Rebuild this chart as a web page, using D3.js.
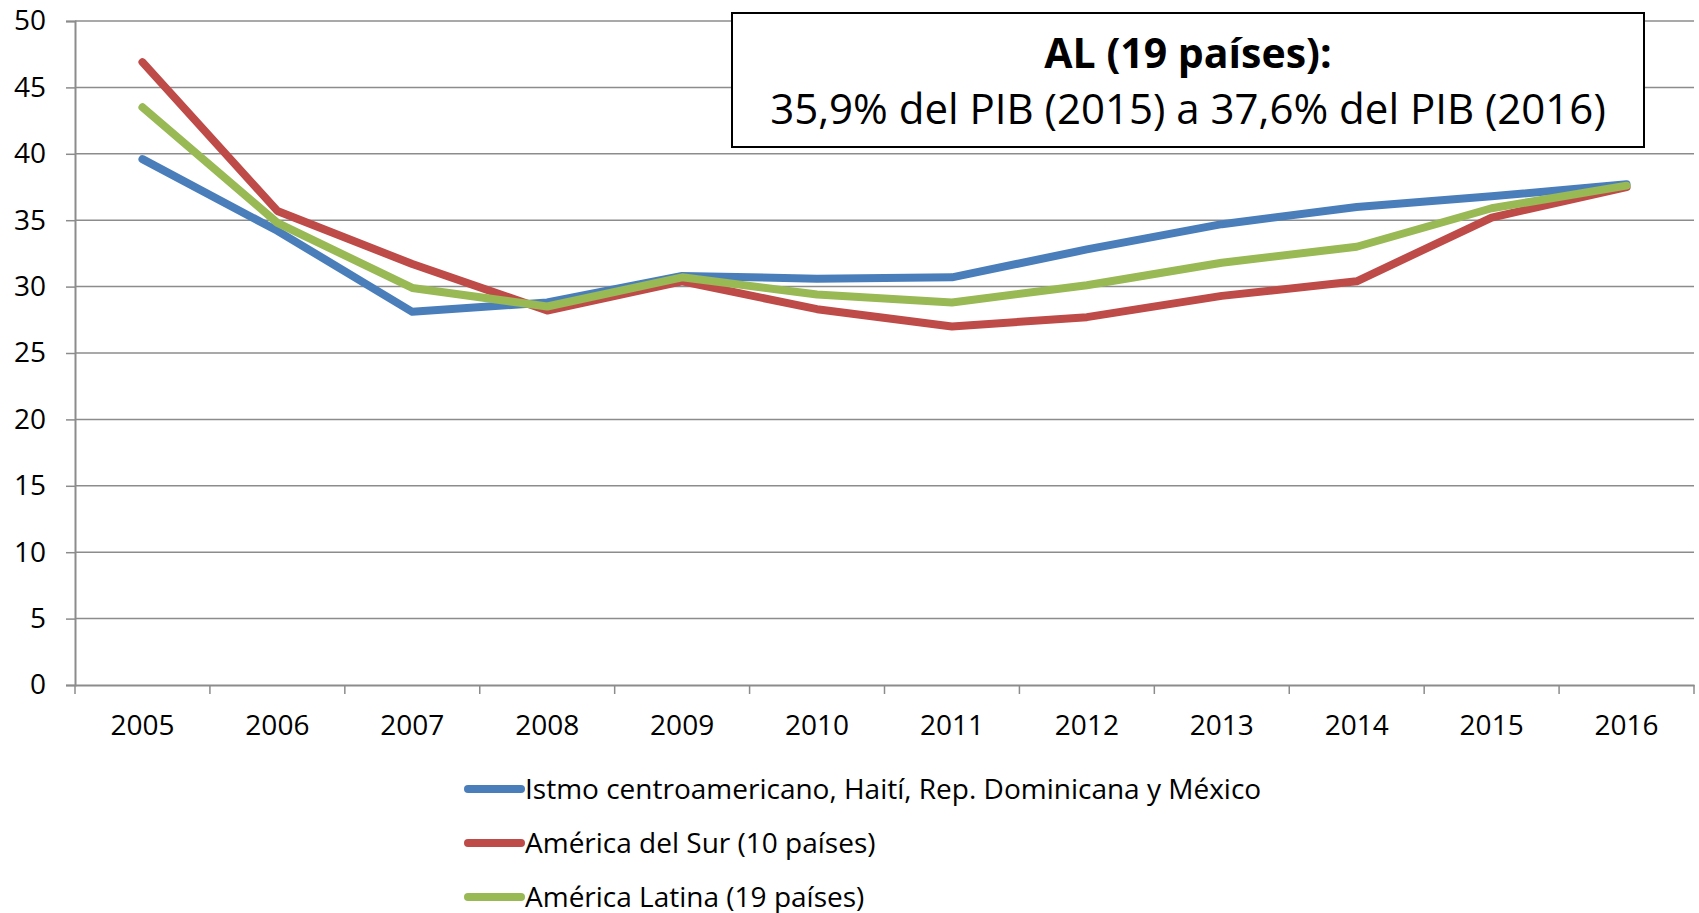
<html>
<head>
<style>
  body { margin: 0; background: #fff; }
  text { font-family: "Open Sans", sans-serif; fill: #000; }
</style>
</head>
<body>
<svg id="svg" width="1699" height="913"></svg>
<script src="https://d3js.org/d3.v7.min.js"></script>
<script>

var years = ["2005","2006","2007","2008","2009","2010","2011","2012","2013","2014","2015","2016"];
var yTicks = [0, 5, 10, 15, 20, 25, 30, 35, 40, 45, 50];

var istmo   = [39.6, 34.2, 28.1, 28.8, 30.8, 30.6, 30.7, 32.8, 34.7, 36.0, 36.8, 37.7];
var sur     = [46.9, 35.7, 31.7, 28.2, 30.4, 28.3, 27.0, 27.7, 29.3, 30.4, 35.2, 37.5];
var latina  = [43.5, 34.8, 29.9, 28.5, 30.7, 29.4, 28.8, 30.1, 31.8, 33.0, 35.9, 37.6];

var seriesNames = [
  "Istmo centroamericano, Haití, Rep. Dominicana y México",
  "América del Sur (10 países)",
  "América Latina (19 países)"
];
var seriesColors = ["#4a7ebb", "#be4b48", "#98b954"];

var boxTitle = "AL (19 países):";
var boxText = "35,9% del PIB (2015) a 37,6% del PIB (2016)";

var svg = d3.select("#svg");
var mLeft = 75, mRight = 1694, mTop = 21, mBottom = 685;
var grey = "#8c8c8c";

var x = d3.scaleBand().domain(years).range([mLeft, mRight]).padding(0);
var y = d3.scaleLinear().domain([0, 50]).range([mBottom, mTop]);
var cx = d => x(d) + x.bandwidth() / 2;

// grid
svg.append("g")
  .selectAll("line").data(yTicks.filter(v => v > 0))
  .join("line")
  .attr("x1", mLeft).attr("x2", mRight)
  .attr("y1", d => y(d)).attr("y2", d => y(d))
  .style("stroke", grey).style("stroke-width", 1.5);

// y axis
var ya = svg.append("g").attr("transform", "translate(" + mLeft + ",0)")
  .call(d3.axisLeft(y).tickValues(yTicks).tickSize(9).tickPadding(20));
ya.select(".domain").style("stroke", grey).style("stroke-width", 2);
ya.selectAll(".tick line").style("stroke", grey).style("stroke-width", 1.5);
ya.selectAll(".tick text").style("font-size", "28px").style("font-family", "'Open Sans', sans-serif").attr("fill", "#000");

// x axis
var xa = svg.append("g").attr("transform", "translate(0," + mBottom + ")")
  .call(d3.axisBottom(x).tickSize(0).tickPadding(25));
xa.select(".domain").style("stroke", grey).style("stroke-width", 2);
xa.selectAll(".tick text").style("font-size", "28px").style("font-family", "'Open Sans', sans-serif").attr("fill", "#000").attr("dy", "0.9em");

svg.append("g")
  .selectAll("line").data(years.map(d => x(d)).concat([mRight]))
  .join("line")
  .attr("x1", d => d).attr("x2", d => d)
  .attr("y1", mBottom).attr("y2", mBottom + 9)
  .style("stroke", grey).style("stroke-width", 1.5);

// lines
var line = d3.line().x((d, i) => cx(years[i])).y(d => y(d));
svg.append("g")
  .selectAll("path").data([istmo, sur, latina])
  .join("path")
  .attr("d", d => line(d))
  .style("fill", "none")
  .style("stroke", (d, i) => seriesColors[i])
  .style("stroke-width", 8)
  .style("stroke-linecap", "round")
  .style("stroke-linejoin", "round");

// annotation box
svg.append("rect")
  .attr("x", 732).attr("y", 13).attr("width", 912).attr("height", 134)
  .style("fill", "#fff").style("stroke", "#000").style("stroke-width", 2);
svg.append("text")
  .attr("x", 1188).attr("y", 68).attr("text-anchor", "middle")
  .style("font-size", "41px").style("font-weight", "bold")
  .text(boxTitle);
svg.append("text")
  .attr("x", 1188).attr("y", 124).attr("text-anchor", "middle")
  .style("font-size", "42px")
  .text(boxText);

// legend
var lg = svg.append("g")
  .selectAll("g").data(seriesNames)
  .join("g")
  .attr("transform", (d, i) => "translate(468," + (789 + 54 * i) + ")");
lg.append("line")
  .attr("x1", 0).attr("x2", 53)
  .style("stroke", (d, i) => seriesColors[i])
  .style("stroke-width", 8).style("stroke-linecap", "round");
lg.append("text")
  .attr("x", 57).attr("dy", "0.35em")
  .style("font-size", "28px")
  .text(d => d);

</script>
</body>
</html>
